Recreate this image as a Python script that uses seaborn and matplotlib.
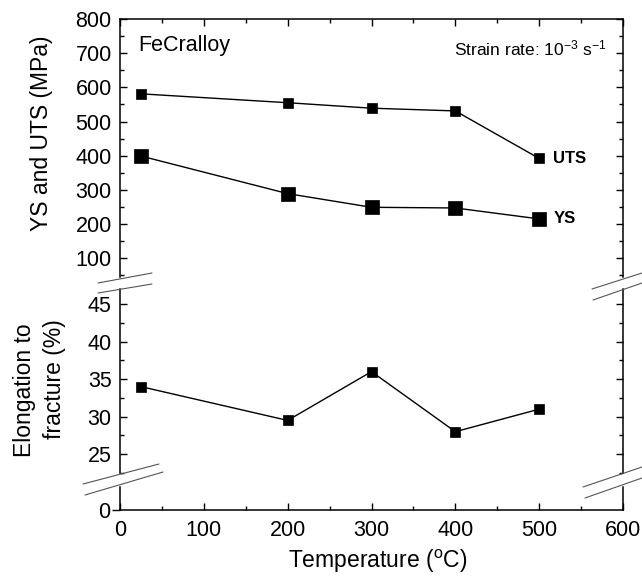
import matplotlib
matplotlib.use("Agg")
import matplotlib.pyplot as plt
from matplotlib.lines import Line2D
from matplotlib.ticker import MultipleLocator, NullLocator
import pandas as pd
import seaborn as sns

# Tensile data of FeCralloy versus test temperature
temperature = [25, 200, 300, 400, 500]
uts = [581, 555, 539, 531, 392]
ys = [399, 289, 249, 247, 215]
elongation = [34.0, 29.5, 36.0, 28.0, 31.0]

strength_ticks = [100, 200, 300, 400, 500, 600, 700, 800]
elong_ticks = [25, 30, 35, 40, 45]
temp_ticks = [0, 100, 200, 300, 400, 500, 600]

df = pd.DataFrame({"T": temperature, "UTS": uts, "YS": ys, "El": elongation})

sns.set_style("ticks")
plt.rcParams["font.family"] = ["Liberation Sans", "DejaVu Sans"]
plt.rcParams["mathtext.fontset"] = "custom"
plt.rcParams["mathtext.rm"] = "Liberation Sans"
plt.rcParams["mathtext.it"] = "Liberation Sans:italic"
plt.rcParams["mathtext.default"] = "regular"
plt.rcParams["text.color"] = "black"
plt.rcParams["axes.labelcolor"] = "black"
plt.rcParams["xtick.color"] = "black"
plt.rcParams["ytick.color"] = "black"

W, H = 642, 576
fig = plt.figure(figsize=(W / 100, H / 100), dpi=100)


def px_rect(x0, y0, x1, y1):
    """Axes rectangle from pixel box (origin top-left)."""
    return [x0 / W, 1 - y1 / H, (x1 - x0) / W, (y1 - y0) / H]


LEFT, RIGHT = 120, 623
ax_top = fig.add_axes(px_rect(LEFT, 19, RIGHT, 277))
ax_mid = fig.add_axes(px_rect(LEFT, 289, RIGHT, 473))
ax_bot = fig.add_axes(px_rect(LEFT, 487, RIGHT, 510))

FS = 15.5
LABEL_FS = 16.5
line_kw = dict(color="black", linewidth=1.0, marker="s", markeredgecolor="black",
               markerfacecolor="black", markeredgewidth=0.5, legend=False)

sns.lineplot(data=df, x="T", y="UTS", ax=ax_top, markersize=7.5, **line_kw)
sns.lineplot(data=df, x="T", y="YS", ax=ax_top, markersize=9.5, **line_kw)
sns.lineplot(data=df, x="T", y="El", ax=ax_mid, markersize=7.5, **line_kw)

for ax in (ax_top, ax_mid, ax_bot):
    ax.set_xlim(0, 600)
    ax.set_xticks(temp_ticks)
    ax.xaxis.set_minor_locator(MultipleLocator(50))
    ax.set_xlabel("")
    ax.set_ylabel("")
    for s in ax.spines.values():
        s.set_linewidth(1.1)
        s.set_color("black")
    ax.tick_params(which="both", direction="in", width=1.0, colors="black",
                   labelsize=FS)
    ax.tick_params(which="major", length=5)
    ax.tick_params(which="minor", length=3)
    ax.patch.set_alpha(0)

# upper panel: strengths
ax_top.set_ylim(45, 800)
ax_top.set_yticks(strength_ticks)
ax_top.yaxis.set_minor_locator(MultipleLocator(50))
ax_top.spines["bottom"].set_visible(False)
ax_top.tick_params(axis="x", which="both", bottom=False, top=True,
                   labelbottom=False)
ax_top.tick_params(axis="y", which="both", left=True, right=True, pad=6)

# middle panel: elongation
ax_mid.set_ylim(22.5, 47)
ax_mid.set_yticks(elong_ticks)
ax_mid.yaxis.set_minor_locator(MultipleLocator(2.5))
ax_mid.spines["top"].set_visible(False)
ax_mid.spines["bottom"].set_visible(False)
ax_mid.tick_params(axis="x", which="both", bottom=False, top=False,
                   labelbottom=False)
ax_mid.tick_params(axis="y", which="both", left=True, right=True, pad=6)

# bottom strip: zero and temperature axis
ax_bot.set_ylim(0, 1)
ax_bot.set_yticks([0])
ax_bot.yaxis.set_minor_locator(NullLocator())
ax_bot.spines["top"].set_visible(False)
ax_bot.tick_params(axis="y", which="both", left=True, right=False,
                   direction="out", length=6, pad=1)
ax_bot.tick_params(axis="x", which="both", bottom=True, top=False, pad=7)

# annotations
ax_top.text(22, 721, "FeCralloy", fontsize=FS, va="center", ha="left")
ax_top.text(0.968, 0.885, "Strain rate: 10$^{-3}$ s$^{-1}$", fontsize=12.5,
            transform=ax_top.transAxes, va="center", ha="right")
ax_top.text(517, uts[-1], "UTS", fontsize=12, fontweight="bold",
            va="center", ha="left")
ax_top.text(517, ys[-1], "YS", fontsize=12, fontweight="bold",
            va="center", ha="left")

# axis titles
fig.text(42 / W, 1 - 133 / H, "YS and UTS (MPa)", rotation=90,
         fontsize=LABEL_FS, ha="center", va="center")
fig.text(25 / W, 1 - 390 / H, "Elongation to", rotation=90,
         fontsize=LABEL_FS, ha="center", va="center")
fig.text(54 / W, 1 - 379 / H, "fracture (%)", rotation=90,
         fontsize=LABEL_FS, ha="center", va="center")
fig.text(378 / W, 1 - 561 / H, "Temperature ($^{o}$C)", fontsize=LABEL_FS,
         ha="center", va="center")

# axis break marks
breaks = [
    [((98, 283), (152, 273)), ((98, 293), (152, 284))],
    [((592, 289), (642, 273)), ((593, 300), (642, 283))],
    [((83, 484), (159, 464)), ((85, 495), (163, 472))],
    [((583, 487), (642, 467)), ((585, 498), (642, 478))],
]
for pair in breaks:
    for (x0, y0), (x1, y1) in pair:
        fig.add_artist(Line2D([x0 / W, x1 / W], [1 - y0 / H, 1 - y1 / H],
                              transform=fig.transFigure, color="#555555",
                              linewidth=0.8))

fig.savefig("out.png", dpi=100)
